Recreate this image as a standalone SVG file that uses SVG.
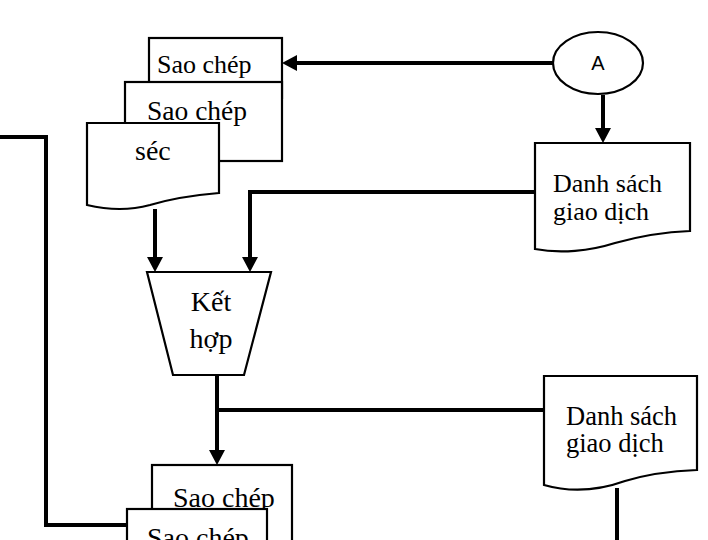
<svg xmlns="http://www.w3.org/2000/svg" width="708" height="540" viewBox="0 0 708 540">
  <style>
    .shape { fill: #ffffff; stroke: #000000; stroke-width: 2.2; }
    .conn { fill: none; stroke: #000000; stroke-width: 4; }
    .lbl { font-family: "Liberation Serif", "Times New Roman", serif; fill: #000000; }
    .sans { font-family: "Liberation Sans", Arial, sans-serif; fill: #000000; }
  </style>
  <defs>
    <marker id="arrow" markerUnits="userSpaceOnUse" markerWidth="15" markerHeight="16" refX="0" refY="8" orient="auto">
      <path d="M0,0 L15,8 L0,16 z" fill="#000000"/>
    </marker>
  </defs>

  <rect width="708" height="540" fill="#ffffff"/>

  <!-- connectors -->
  <g id="connectors">
    <path class="conn" d="M553,63 H297" marker-end="url(#arrow)"/>
    <path class="conn" d="M603,95 V128" marker-end="url(#arrow)"/>
    <path class="conn" d="M535,192 H250 V257" marker-end="url(#arrow)"/>
    <path class="conn" d="M155,209 V257" marker-end="url(#arrow)"/>
    <path class="conn" d="M217,375 V450" marker-end="url(#arrow)"/>
    <path class="conn" d="M544,410 H217"/>
    <path class="conn" d="M0,137 H46 V525 H127"/>
    <path class="conn" d="M617,488 V540"/>
  </g>

  <!-- stacked copies of the cheque -->
  <g id="copy-top-1">
    <rect class="shape" x="149" y="38" width="133" height="60"/>
    <text class="lbl" x="157" y="73" font-size="26">Sao chép</text>
  </g>
  <g id="copy-top-2">
    <rect class="shape" x="125" y="82" width="157" height="79"/>
    <text class="lbl" x="147" y="120" font-size="27.5">Sao chép</text>
  </g>
  <g id="cheque">
    <path class="shape" d="M87,123 H219 V193 C195,195 170,199 150,205 C128,211 108,210 87,205 Z"/>
    <text class="lbl" x="135" y="160" font-size="28">séc</text>
  </g>

  <!-- off-page connector A -->
  <g id="connector-a">
    <ellipse class="shape" cx="598" cy="63" rx="45" ry="31"/>
    <text class="sans" x="598" y="70" font-size="20" text-anchor="middle">A</text>
  </g>

  <!-- transaction list -->
  <g id="transactions-1">
    <path class="shape" d="M535,143 H690 V231 C665,232 640,236 615,243 C590,251 560,254 535,249 Z"/>
    <text class="lbl" x="553" y="192" font-size="26">Danh sách</text>
    <text class="lbl" x="553" y="220" font-size="26">giao dịch</text>
  </g>

  <!-- merge -->
  <g id="merge">
    <path class="shape" d="M147,272 H271 L244,375 H173 Z"/>
    <text class="lbl" x="211" y="311" font-size="28" text-anchor="middle">Kết</text>
    <text class="lbl" x="211" y="348" font-size="28" text-anchor="middle">hợp</text>
  </g>

  <!-- transaction list, second -->
  <g id="transactions-2">
    <path class="shape" d="M544,376 H697 V470 C672,471 648,474 625,481 C600,490 572,493 544,485 Z"/>
    <text class="lbl" x="566" y="425" font-size="26.5">Danh sách</text>
    <text class="lbl" x="566" y="452" font-size="26.5">giao dịch</text>
  </g>

  <!-- copies, lower -->
  <g id="copy-bottom-1">
    <rect class="shape" x="152" y="465" width="140" height="90"/>
    <text class="lbl" x="173" y="507" font-size="28">Sao chép</text>
  </g>
  <g id="copy-bottom-2">
    <rect class="shape" x="127" y="509" width="140" height="60"/>
    <text class="lbl" x="147" y="547" font-size="28">Sao chép</text>
  </g>
</svg>
